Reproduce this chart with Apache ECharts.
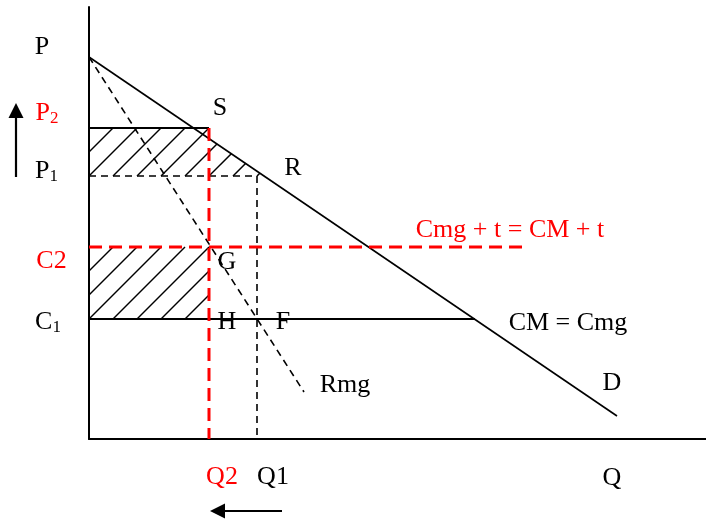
<!DOCTYPE html>
<html>
<head>
<meta charset="utf-8">
<script src="https://cdn.jsdelivr.net/npm/echarts@6/dist/echarts.min.js"></script>
<style>
html, body { margin: 0; padding: 0; background: #fff; }
#chart { width: 706px; height: 521px; }
</style>
</head>
<body>
<div id="chart"></div>
<script>
// curves, as [Q, P]
var demand = [[0, 38.2], [52.8, 2.3]];
var rmg = [[0, 38.2], [21.5, 4.7]];

// price and cost levels
var P2 = 31.1, P1 = 26.3;
var C2 = 19.2, C1 = 12.0;
// quantities
var Q2 = 12.0, Q1 = 16.8;
var cmEnd = 38.6;   // CM = Cmg ends on the demand curve
var taxEnd = 43.3;  // end of the red Cmg + t line

// text annotations: [Q, P, text, colour]
var labels = [
    [-4.7, 39.2, 'P', '#000'],
    [-4.2, 32.6, '{b|P}{s|2}', '#f00'],
    [-4.25, 26.8, '{b|P}{s|1}', '#000'],
    [-3.75, 17.8, 'C2', '#f00'],
    [-4.1, 11.7, '{b|C}{s|1}', '#000'],
    [13.1, 33.1, 'S', '#000'],
    [20.4, 27.1, 'R', '#000'],
    [13.8, 17.7, 'G', '#000'],
    [13.8, 11.7, 'H', '#000'],
    [19.4, 11.7, 'F', '#000'],
    [25.6, 5.4, 'Rmg', '#000'],
    [42.1, 20.9, 'Cmg + t = CM + t', '#f00'],
    [47.9, 11.6, 'CM = Cmg', '#000'],
    [52.3, 5.6, 'D', '#000'],
    [13.3, -3.8, 'Q2', '#f00'],
    [18.4, -3.8, 'Q1', '#000'],
    [52.3, -3.9, 'Q', '#000']
];

// arrows beside the axes: [fromQ, fromP, toQ, toP]
var arrows = [
    [-7.3, 26.2, -7.3, 33.6],
    [19.3, -7.2, 12.1, -7.2]
];

function demandAt(q) {
    var a = demand[0], b = demand[1];
    return a[1] + (b[1] - a[1]) * (q - a[0]) / (b[0] - a[0]);
}
function demandQ(p) {
    var a = demand[0], b = demand[1];
    return a[0] + (b[0] - a[0]) * (p - a[1]) / (b[1] - a[1]);
}

// hatched areas (convex pieces) and the corner the hatch starts from
var hatchRegions = [
    [[0, P1], [0, P2], [Q2, P2], [Q2, P1]],
    [[Q2, P1], [Q2, demandAt(Q2)], [demandQ(P1), P1]],
    [[0, C1], [0, C2], [Q2, C2], [Q2, C1]]
];
var hatchBase = [[0, P1], [0, P1], [0, C1]];

function hatch(params, api) {
    var poly = hatchRegions[params.dataIndex].map(function (p) { return api.coord(p); });
    var b = api.coord(hatchBase[params.dataIndex]);
    var c0 = b[0] + b[1];
    var children = [];
    for (var k = -40; k <= 40; k++) {
        var c = c0 + k * 24;
        var pts = [];
        for (var i = 0; i < poly.length; i++) {
            var A = poly[i], B = poly[(i + 1) % poly.length];
            var fa = A[0] + A[1] - c, fb = B[0] + B[1] - c;
            if (fa === fb) continue;
            if (fa * fb <= 0) {
                var t = fa / (fa - fb);
                pts.push([A[0] + (B[0] - A[0]) * t, A[1] + (B[1] - A[1]) * t]);
            }
        }
        if (pts.length < 2) continue;
        pts.sort(function (u, v) { return u[0] - v[0]; });
        var p1 = pts[0], p2 = pts[pts.length - 1];
        if (Math.abs(p2[0] - p1[0]) < 0.5) continue;
        children.push({
            type: 'line',
            shape: { x1: p1[0], y1: p1[1], x2: p2[0], y2: p2[1] },
            style: { stroke: '#000', lineWidth: 1.5 }
        });
    }
    return { type: 'group', children: children };
}

function drawArrow(params, api) {
    var a = arrows[params.dataIndex];
    var s = api.coord([a[0], a[1]]);
    var e = api.coord([a[2], a[3]]);
    var dx = e[0] - s[0], dy = e[1] - s[1];
    var len = Math.sqrt(dx * dx + dy * dy);
    var ux = dx / len, uy = dy / len;
    var head = 15, half = 7.5;
    var bx = e[0] - ux * head, by = e[1] - uy * head;
    return {
        type: 'group',
        children: [
            {
                type: 'line',
                shape: { x1: s[0], y1: s[1], x2: bx, y2: by },
                style: { stroke: '#000', lineWidth: 2.2 }
            },
            {
                type: 'polygon',
                shape: { points: [e, [bx - uy * half, by + ux * half], [bx + uy * half, by - ux * half]] },
                style: { fill: '#000' }
            }
        ]
    };
}

function seg(data, color, width, dash) {
    return {
        type: 'line',
        data: data,
        showSymbol: false,
        silent: true,
        clip: false,
        lineStyle: { color: color, width: width, type: dash || 'solid' },
        z: 3
    };
}

var chart = echarts.init(document.getElementById('chart'));
chart.setOption({
    animation: false,
    backgroundColor: '#fff',
    grid: { left: 89, top: 7, right: 0, bottom: 82 },
    xAxis: {
        type: 'value', min: 0, max: 61.7,
        axisLine: { lineStyle: { color: '#000', width: 2 } },
        axisTick: { show: false }, axisLabel: { show: false }, splitLine: { show: false }
    },
    yAxis: {
        type: 'value', min: 0, max: 43.2,
        axisLine: { lineStyle: { color: '#000', width: 2 } },
        axisTick: { show: false }, axisLabel: { show: false }, splitLine: { show: false }
    },
    series: [
        {
            type: 'custom',
            silent: true,
            renderItem: hatch,
            data: hatchRegions.map(function (r) { return r[0]; }),
            z: 2
        },
        seg(demand, '#000', 1.6),
        seg(rmg, '#000', 1.6, [7, 5]),
        seg([[0, P2], [Q2, P2]], '#000', 2),
        seg([[0, P1], [Q1, P1], [Q1, 0]], '#000', 1.6, [7, 5]),
        seg([[0, C1], [cmEnd, C1]], '#000', 2),
        seg([[0, C2], [taxEnd, C2]], '#f00', 3, [13, 7]),
        seg([[Q2, P2], [Q2, 0]], '#f00', 3, [13, 7]),
        {
            type: 'custom',
            silent: true,
            renderItem: drawArrow,
            data: arrows.map(function (a) { return [a[0], a[1]]; }),
            z: 4
        },
        {
            type: 'scatter',
            silent: true,
            clip: false,
            symbolSize: 1,
            itemStyle: { color: 'rgba(0,0,0,0)', opacity: 1 },
            data: labels.map(function (l) {
                return {
                    value: [l[0], l[1]],
                    name: l[2],
                    label: {
                        color: l[3],
                        rich: {
                            b: { color: l[3], fontSize: 26, fontFamily: 'Liberation Serif' },
                            s: { color: l[3], fontSize: 17, fontFamily: 'Liberation Serif', verticalAlign: 'bottom', padding: [11, 0, 0, 0] }
                        }
                    }
                };
            }),
            label: {
                show: true,
                position: 'inside',
                formatter: function (p) { return p.name; },
                fontFamily: 'Liberation Serif',
                fontSize: 26
            },
            z: 5
        }
    ]
});
</script>
</body>
</html>
